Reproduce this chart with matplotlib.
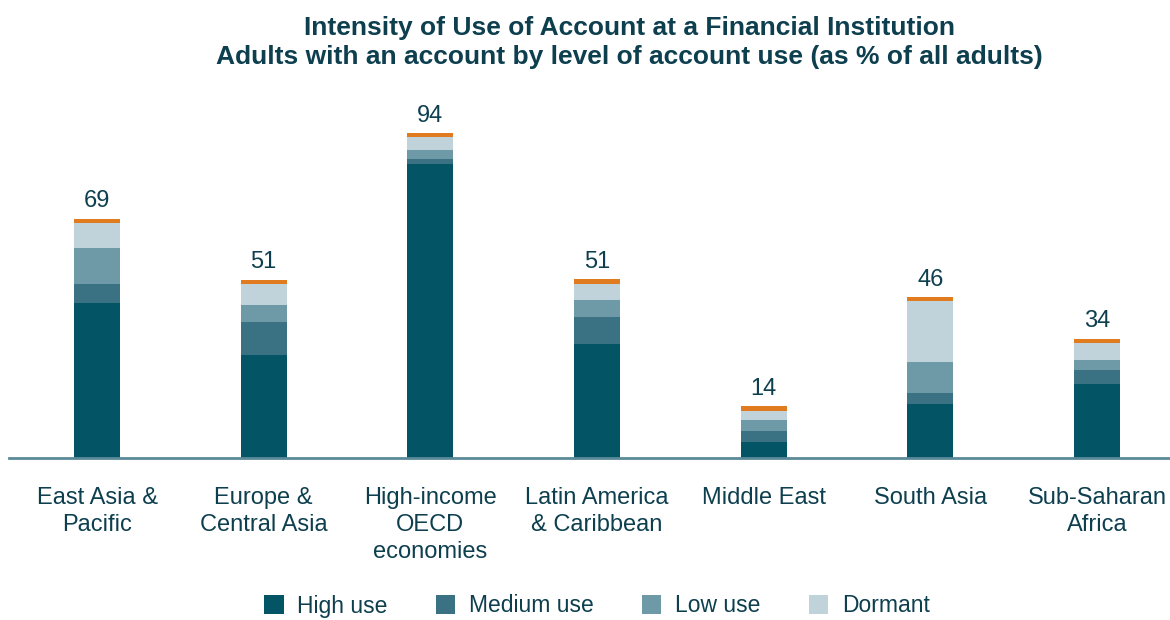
import matplotlib.pyplot as plt
import numpy as np

plt.rcParams['font.family'] = ['Liberation Sans', 'DejaVu Sans']

regions = ['East Asia &\nPacific', 'Europe &\nCentral Asia', 'High-income\nOECD\neconomies',
           'Latin America\n& Caribbean', 'Middle East', 'South Asia', 'Sub-Saharan\nAfrica']
high_use = [45.2, 30.0, 85.7, 33.2, 4.6, 15.7, 21.6]
medium_use = [5.5, 9.6, 1.7, 7.9, 3.3, 3.2, 4.1]
low_use = [10.5, 5.0, 2.6, 5.0, 3.3, 9.0, 2.9]
dormant = [7.6, 6.4, 3.8, 5.0, 2.8, 18.1, 5.2]
totals = [69, 51, 94, 51, 14, 46, 34]

SERIES = [('High use', high_use, '#035566'),
          ('Medium use', medium_use, '#3a7284'),
          ('Low use', low_use, '#6e99a7'),
          ('Dormant', dormant, '#c0d3da')]
TXT = '#0d3f4f'
CAP = 1.25  # thickness of the orange marker on top of each bar

fig = plt.figure(figsize=(11.7, 6.2), dpi=100)
ax = fig.add_axes([9 / 1170, 1 - 458 / 620, 1 - 9 / 1170, (458 - 100) / 620])

x = np.arange(len(regions))
w = 0.276
bottom = np.zeros(len(regions))
for label, vals, color in SERIES:
    ax.bar(x, vals, w, bottom=bottom, color=color, label=label, linewidth=0)
    bottom += np.array(vals)
ax.bar(x, CAP, w, bottom=bottom - 0.2, color='#e07b1f', linewidth=0)
for xi, top, t in zip(x, bottom, totals):
    ax.annotate(f'{t}', (xi, top + CAP), xytext=(0, 4), textcoords='offset points',
                ha='center', va='bottom', fontsize=17, color=TXT)

ax.set_xlim(-0.528, 6.438)
ax.set_ylim(0, 104.5)
ax.set_xticks(x)
ax.set_xticklabels(regions, fontsize=17, color=TXT, linespacing=1.3)
ax.tick_params(axis='x', length=0, pad=21)
ax.set_yticks([])
for s in ['top', 'right', 'left']:
    ax.spines[s].set_visible(False)
ax.spines['bottom'].set_color('#5b8a99')
ax.spines['bottom'].set_linewidth(2)

fig.text(629 / 1170, 1 - 16 / 620,
         'Intensity of Use of Account at a Financial Institution\n'
         'Adults with an account by level of account use (as % of all adults)',
         ha='center', va='top', fontsize=19, fontweight='bold', color=TXT, linespacing=1.25)

fig.legend(loc='center', bbox_to_anchor=(597 / 1170, 1 - 606 / 620), ncol=4, frameon=False,
           fontsize=16.5, labelcolor=TXT, handlelength=0.85, handleheight=0.85,
           handletextpad=0.6, columnspacing=2.1)

fig.savefig('out.png', dpi=100)
